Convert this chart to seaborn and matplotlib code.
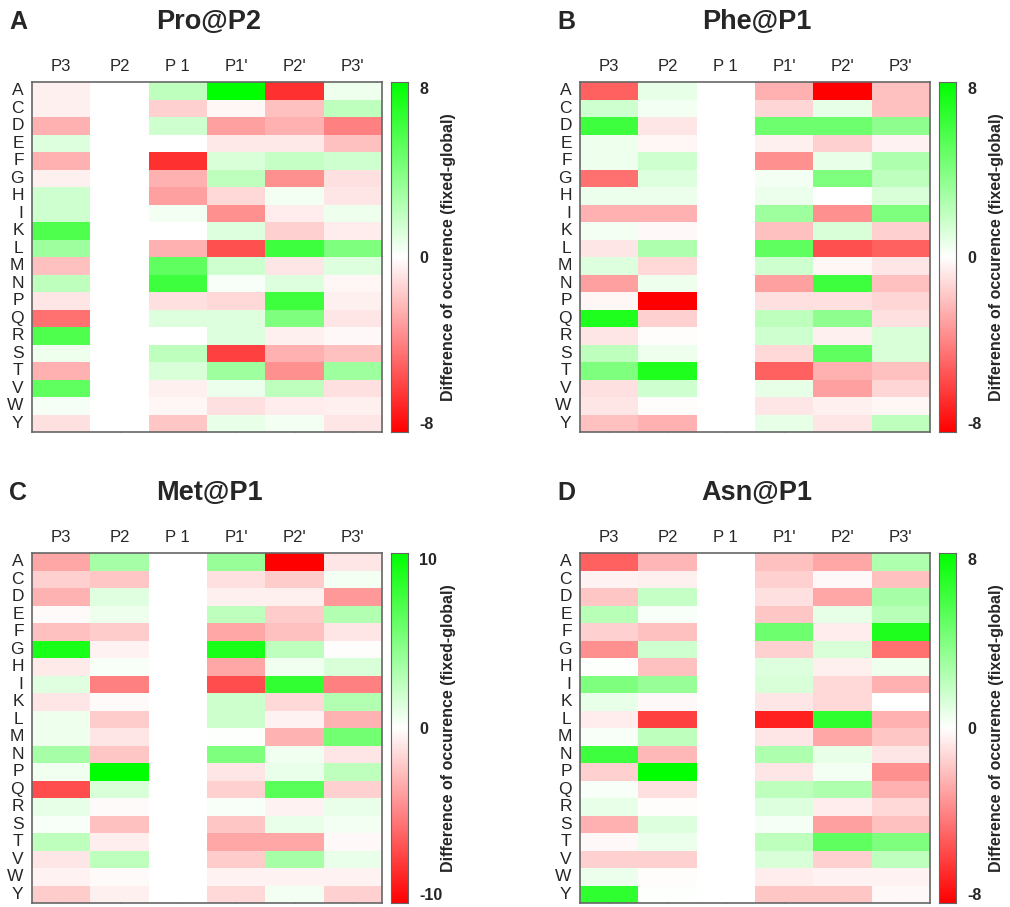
import numpy as np
import pandas as pd
import matplotlib.pyplot as plt
import seaborn as sns
from matplotlib.colors import LinearSegmentedColormap

residues = list("ACDEFGHIKLMNPQRSTVWY")
positions = ["P3", "P2", "P 1", "P1'", "P2'", "P3'"]

# rows A..Y, columns P3, P2, P1, P1', P2', P3'
pro_p2 = [
    [-0.5, 0, 2.0, 8.0, -6.5, 0.5],
    [-0.5, 0, -1.5, -0.3, -2.0, 2.0],
    [-2.5, 0, 1.5, -3.0, -2.5, -4.0],
    [1.0, 0, 0.0, -0.7, -0.7, -2.0],
    [-2.5, 0, -6.5, 1.2, 1.8, 1.5],
    [-0.5, 0, -2.5, 2.0, -3.5, -1.0],
    [1.5, 0, -3.0, -1.2, 0.4, -0.8],
    [1.5, 0, 0.4, -3.5, -0.6, 0.5],
    [5.5, 0, 0.0, 1.0, -1.5, -0.6],
    [3.0, 0, -2.5, -5.5, 6.0, 4.0],
    [-2.0, 0, 5.0, 1.5, -0.8, 1.0],
    [2.0, 0, 6.0, 0.2, 1.0, -0.3],
    [-0.8, 0, -1.0, -1.2, 6.0, -0.5],
    [-4.5, 0, 1.0, 1.0, 4.0, -0.8],
    [5.5, 0, 0.0, 1.0, -0.5, -0.2],
    [0.5, 0, 2.0, -6.0, -2.5, -2.0],
    [-2.5, 0, 1.2, 3.0, -3.5, 3.0],
    [5.0, 0, -0.5, 0.6, 2.0, -1.0],
    [0.3, 0, -0.3, -1.0, -0.6, -0.5],
    [-1.0, 0, -1.8, 0.7, 0.4, -0.8],
]

phe_p1 = [
    [-5.0, 0.8, 0, -2.5, -8.0, -2.0],
    [1.5, 0.4, 0, -1.3, 0.8, -2.0],
    [6.0, -0.8, 0, 4.5, 4.5, 3.5],
    [0.5, -0.3, 0, -0.5, -1.5, -0.4],
    [0.5, 1.5, 0, -3.5, 0.7, 2.5],
    [-4.5, 1.0, 0, 0.4, 4.0, 2.0],
    [0.6, 0.6, 0, 0.6, 0.0, 1.2],
    [-2.5, -2.5, 0, 3.0, -3.5, 4.0],
    [0.4, -0.2, 0, -2.0, 1.2, -1.5],
    [-0.8, 2.5, 0, 5.0, -5.5, -5.0],
    [1.0, -1.2, 0, 1.5, -0.3, -0.8],
    [-3.0, 0.5, 0, -3.0, 6.0, -2.0],
    [-0.3, -8.0, 0, -1.0, -1.0, -1.3],
    [7.0, -1.5, 0, 2.0, 3.5, -1.0],
    [-0.8, -0.1, 0, 1.5, -0.5, 1.2],
    [2.0, 0.5, 0, -1.2, 5.0, 1.2],
    [4.0, 7.0, 0, -5.0, -2.5, -2.0],
    [-1.0, 1.5, 0, 0.8, -3.0, -1.3],
    [-0.8, -0.1, 0, -0.8, -0.5, -0.3],
    [-2.0, -2.5, 0, 0.8, -0.8, 2.0],
]

met_p1 = [
    [-3.5, 3.5, 0, 4.0, -10.0, -1.0],
    [-1.8, -2.2, 0, -1.2, -2.0, 0.5],
    [-3.0, 1.2, 0, -0.6, -0.6, -4.0],
    [-0.2, 0.7, 0, 2.5, -2.0, 3.0],
    [-2.5, -2.0, 0, -3.5, -2.5, -1.0],
    [9.0, -0.5, 0, 9.0, 2.5, -0.1],
    [-0.8, 0.3, 0, -3.5, 0.6, 1.5],
    [1.2, -5.0, 0, -7.0, 8.0, -5.0],
    [-1.0, -0.2, 0, 2.0, -1.5, 3.0],
    [0.7, -2.0, 0, 2.0, -0.5, -3.0],
    [0.7, -1.0, 0, 0.1, -3.0, 5.5],
    [3.5, -2.2, 0, 5.0, 0.6, -1.0],
    [0.6, 10.0, 0, -1.0, 0.8, 2.5],
    [-7.0, 1.5, 0, -1.8, 6.5, -1.8],
    [1.0, -0.2, 0, 0.3, -0.5, 0.8],
    [0.3, -2.5, 0, -2.2, 0.8, 0.4],
    [2.5, -0.7, 0, -3.5, -3.5, -0.3],
    [-1.0, 2.5, 0, -2.0, 3.5, 0.8],
    [-0.5, -0.2, 0, -0.5, -0.5, -0.5],
    [-2.0, -0.6, 0, -1.5, 0.4, -1.8],
]

asn_p1 = [
    [-5.0, -2.3, 0, -2.0, -2.8, 2.5],
    [-0.4, -0.5, 0, -1.5, -0.2, -2.0],
    [-1.8, 1.8, 0, -1.0, -2.8, 2.8],
    [2.2, 0.2, 0, -1.8, 0.8, 2.2],
    [-1.5, -2.0, 0, 4.5, -0.6, 7.0],
    [-3.5, 1.5, 0, -1.5, 1.2, -4.5],
    [0.1, -2.0, 0, 1.0, -0.5, 0.5],
    [4.0, 3.2, 0, 1.2, -1.2, -2.5],
    [0.7, -0.2, 0, -0.8, -1.2, 0.0],
    [-0.6, -6.0, 0, -7.0, 6.5, -2.5],
    [0.2, 2.0, 0, -0.8, -2.8, -1.8],
    [6.0, -2.2, 0, 2.5, 0.7, -0.8],
    [-1.5, 8.0, 0, -0.8, 0.4, -3.5],
    [0.2, -1.0, 0, 2.0, 2.5, -2.5],
    [0.7, -0.1, 0, 1.0, -0.6, -1.2],
    [-2.5, 1.0, 0, 0.3, -3.0, -2.0],
    [-0.2, 0.6, 0, 2.0, 5.0, 4.0],
    [-1.5, -1.5, 0, 1.2, -1.5, 2.0],
    [0.6, -0.1, 0, -0.6, -0.4, -0.4],
    [6.5, 0.1, 0, -1.8, -1.8, -0.2],
]

panels = [
    ("A", "Pro@P2", pro_p2, 8, 32, 82),
    ("B", "Phe@P1", phe_p1, 8, 580, 82),
    ("C", "Met@P1", met_p1, 10, 32, 553),
    ("D", "Asn@P1", asn_p1, 8, 580, 553),
]

sns.set_style("white")
plt.rcParams['font.family'] = ['Liberation Sans', 'DejaVu Sans']

cmap = LinearSegmentedColormap.from_list("red_white_green", ["#ff0000", "#ffffff", "#00ff00"])

W, H = 1010, 907
fig = plt.figure(figsize=(W / 100, H / 100), dpi=100)

for letter, title, vals, vmax, x0, y0 in panels:
    ax = fig.add_axes([x0 / W, 1 - (y0 + 350) / H, 350 / W, 350 / H])
    cax = fig.add_axes([(x0 + 359) / W, 1 - (y0 + 350) / H, 17 / W, 350 / H])
    df = pd.DataFrame(vals, index=residues, columns=positions)
    sns.heatmap(df, ax=ax, cbar_ax=cax, cmap=cmap, vmin=-vmax, vmax=vmax)

    # heatmap axes
    ax.xaxis.tick_top()
    ax.tick_params(axis='x', top=True, bottom=True, labeltop=True, labelbottom=False,
                   direction='in', length=3, color='#555555', labelsize=12, pad=6)
    for t in ax.xaxis.get_major_ticks():
        t.tick2line.set_visible(False)
    ax.tick_params(axis='y', left=True, direction='in', length=3, color='#555555',
                   labelsize=12.5, pad=6)
    ax.set_yticklabels(residues, rotation=0)
    ax.set_xticklabels(positions, rotation=0)
    ax.set_xlabel("")
    ax.set_ylabel("")
    for s in ax.spines.values():
        s.set_visible(True)
        s.set_color('#666666')
        s.set_linewidth(1.2)

    # colorbar
    cax.set_yticks([-vmax, 0, vmax])
    cax.set_yticklabels([str(-vmax), "0", str(vmax)], fontweight='bold', fontsize=11.5)
    labels = cax.get_yticklabels()
    labels[0].set_va('bottom')
    labels[-1].set_va('top')
    cax.set_yticks(np.linspace(-vmax, vmax, 9) * 0.94, minor=True)
    cax.tick_params(axis='y', which='major', length=0, pad=8)
    cax.tick_params(axis='y', which='minor', direction='in', length=5, width=1.2, color='#333333')
    for s in cax.spines.values():
        s.set_visible(True)
        s.set_color('#666666')

    fig.text((x0 + 416) / W, 1 - (y0 + 175) / H, "Difference of occurence (fixed-global)",
             rotation=90, ha='center', va='center', fontsize=11.5, fontweight='bold')
    fig.text((x0 + 177) / W, 1 - (y0 - 60) / H, title, ha='center', va='center',
             fontsize=19.5, fontweight='bold')
    fig.text((x0 - 14) / W, 1 - (y0 - 60) / H, letter, ha='center', va='center',
             fontsize=18, fontweight='bold')

fig.savefig("out.png", dpi=100)
